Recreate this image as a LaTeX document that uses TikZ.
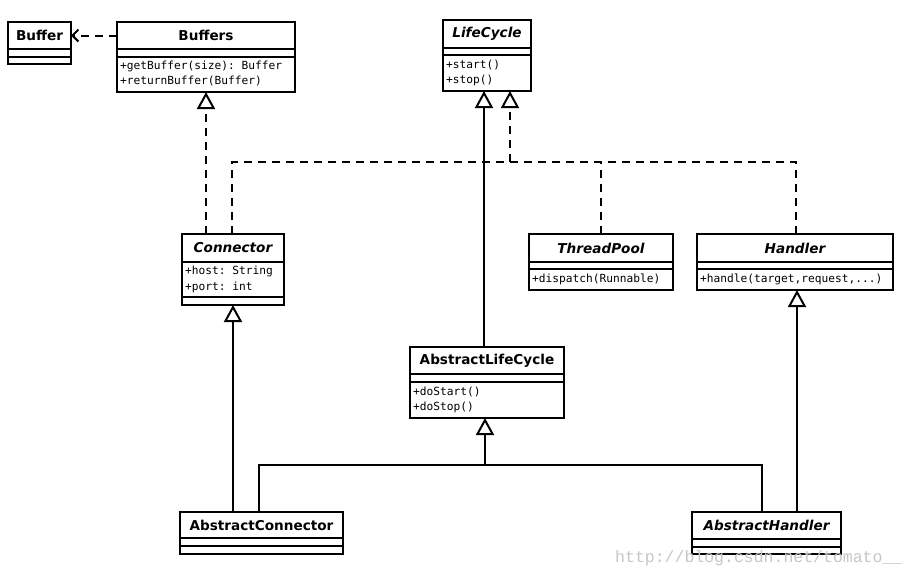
\documentclass[tikz,border=0pt]{standalone}
\usepackage{fontspec}
\setmainfont{DejaVu Sans}
\setmonofont{DejaVu Sans Mono}
\newfontfamily\wmfont{Liberation Mono}
\usetikzlibrary{arrows.meta}
\begin{document}
\begin{tikzpicture}[x=1pt,y=-1pt,
 box/.style={draw, line width=2pt, inner sep=0pt, outer sep=0pt, anchor=north west},
 sepline/.style={line width=2pt},
 ttl/.style={font=\fontsize{13.6}{16}\selectfont\bfseries, inner sep=0pt},
 ttli/.style={font=\fontsize{13.6}{16}\selectfont\bfseries\itshape, inner sep=0pt},
 mth/.style={font=\fontsize{11.2}{13}\selectfont\ttfamily, anchor=west, inner sep=0pt},
 conn/.style={line width=2pt},
 dsh/.style={line width=2pt, dash pattern=on 8pt off 6pt},
 gen/.style={-{Triangle[open,length=17pt,width=18pt]}},
 dep/.style={-{Straight Barb[length=6pt,width=12pt]}}
]
\fill[white] (0,0) rectangle (917,576);
\useasboundingbox (0,0) rectangle (917,576);

% Buffer
\node[box, minimum width=63pt, minimum height=42pt] (buffer) at (8,22) {};
\draw[sepline] (8,49) -- (71,49) (8,57) -- (71,57);
\node[ttl] (buffer-t) at (39.5,35.5) {Buffer};

% Buffers
\node[box, minimum width=178pt, minimum height=70pt] (buffers) at (117,22) {};
\draw[sepline] (117,49) -- (295,49) (117,57) -- (295,57);
\node[ttl] (buffers-t) at (206,35.5) {Buffers};
\node[mth] (buffers-m1) at (120,66) {+getBuffer(size): Buffer};
\node[mth] (buffers-m2) at (120,81) {+returnBuffer(Buffer)};

% LifeCycle
\node[box, minimum width=88pt, minimum height=71pt] (life) at (443,20) {};
\draw[sepline] (443,48) -- (531,48) (443,55) -- (531,55);
\node[ttli] (life-t) at (487,34) {LifeCycle};
\node[mth] (life-m1) at (446,64.5) {+start()};
\node[mth] (life-m2) at (446,80) {+stop()};

% Connector
\node[box, minimum width=102pt, minimum height=71pt] (conn) at (182,234) {};
\draw[sepline] (182,262) -- (284,262) (182,297) -- (284,297);
\node[ttli] (conn-t) at (233,248) {Connector};
\node[mth] (conn-a1) at (185,271) {+host: String};
\node[mth] (conn-a2) at (185,287) {+port: int};

% ThreadPool
\node[box, minimum width=144pt, minimum height=56pt] (tpool) at (529,234) {};
\draw[sepline] (529,262) -- (673,262) (529,269) -- (673,269);
\node[ttli] (tpool-t) at (601,248) {ThreadPool};
\node[mth] (tpool-m1) at (532,279.5) {+dispatch(Runnable)};

% Handler
\node[box, minimum width=196pt, minimum height=56pt] (handler) at (697,234) {};
\draw[sepline] (697,262) -- (893,262) (697,269) -- (893,269);
\node[ttli] (handler-t) at (795,248) {Handler};
\node[mth] (handler-m1) at (700,279.5) {+handle(target,request,...)};

% AbstractLifeCycle
\node[box, minimum width=154pt, minimum height=71pt] (alc) at (410,347) {};
\draw[sepline] (410,374) -- (564,374) (410,382) -- (564,382);
\node[ttl] (alc-t) at (487,360.5) {AbstractLifeCycle};
\node[mth] (alc-m1) at (413,392) {+doStart()};
\node[mth] (alc-m2) at (413,407.5) {+doStop()};

% AbstractConnector
\node[box, minimum width=163pt, minimum height=42pt] (aconn) at (180,512) {};
\draw[sepline] (180,538) -- (343,538) (180,546) -- (343,546);
\node[ttl] (aconn-t) at (261.5,525) {AbstractConnector};

% AbstractHandler
\node[box, minimum width=149pt, minimum height=42pt] (ahand) at (692,512) {};
\draw[sepline] (692,539) -- (841,539) (692,547) -- (841,547);
\node[ttli] (ahand-t) at (766.5,525.5) {AbstractHandler};

% junction coordinates
\coordinate (jc) at (232,162);
\coordinate (jl) at (510,162);
\coordinate (jt) at (601,162);
\coordinate (jh) at (796,162);
\coordinate (ja) at (259,465);
\coordinate (jm) at (485,465);
\coordinate (jr) at (762,465);

% dependency Buffers -> Buffer
\draw[dsh,dep] (buffers.west |- buffers-t) -- (buffer.east |- buffers-t);
% Connector realizes Buffers
\draw[dsh,gen] (206,0 |- conn.north) -- (206,0 |- buffers.south);
% realizations of LifeCycle
\draw[dsh] (jc |- conn.north) -- (jc) -- (jh) -- (jh |- handler.north);
\draw[dsh] (jt |- tpool.north) -- (jt);
\draw[dsh,gen] (jl) -- (jl |- life.south);
% AbstractLifeCycle -> LifeCycle
\draw[conn,gen] (484,0 |- alc.north) -- (484,0 |- life.south);
% AbstractConnector -> Connector
\draw[conn,gen] (233,0 |- aconn.north) -- (233,0 |- conn.south);
% AbstractConnector, AbstractHandler -> AbstractLifeCycle
\draw[conn] (ja |- aconn.north) -- (ja) -- (jr) -- (jr |- ahand.north);
\draw[conn,gen] (jm) -- (jm |- alc.south);
% AbstractHandler -> Handler
\draw[conn,gen] (797,0 |- ahand.north) -- (797,0 |- handler.south);

% watermark
\node[font=\wmfont\fontsize{16.5}{18}\selectfont, text=black!22, anchor=base west, inner sep=0pt] (wm) at (615,562) {http://blog.csdn.net/tomato\_\_};
\end{tikzpicture}
\end{document}
